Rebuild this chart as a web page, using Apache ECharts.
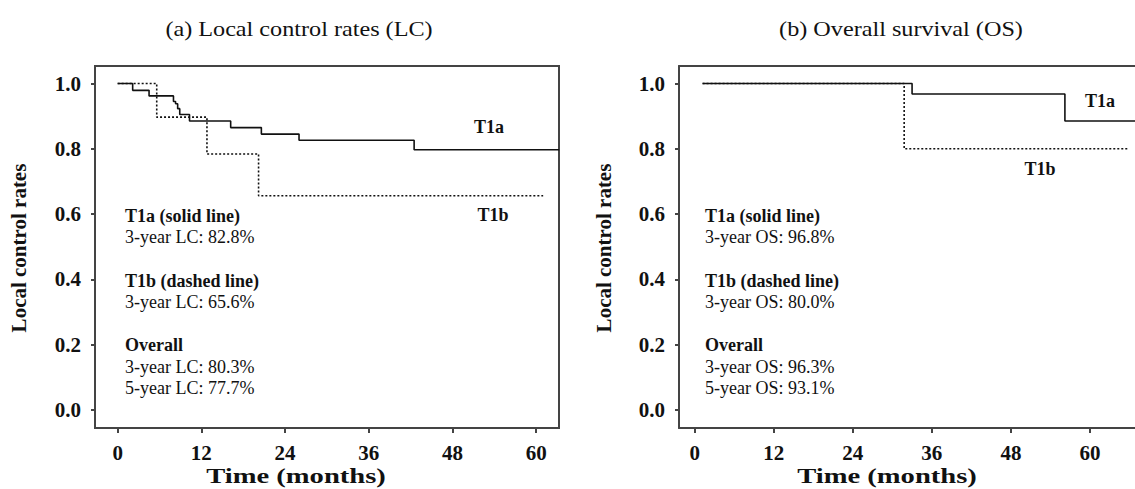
<!DOCTYPE html>
<html>
<head>
<meta charset="utf-8">
<script src="https://cdn.jsdelivr.net/npm/echarts@6/dist/echarts.min.js"></script>
<style>html,body{margin:0;padding:0;background:#fff}#c{width:1135px;height:489px}</style>
</head>
<body>
<div id="c"></div>
<script>
// ---- data ----
const xTicks = [0, 12, 24, 36, 48, 60];
const yTicks = [0, 0.2, 0.4, 0.6, 0.8, 1.0];

const lcMonthsT1a = [0, 2.15, 4.5, 8.0, 8.3, 8.6, 8.9, 10.3, 16.2, 20.6, 26.0, 42.5, 63.3];
const lcRateT1a   = [1.0, 0.979, 0.962, 0.945, 0.938, 0.923, 0.905, 0.885, 0.865, 0.845, 0.826, 0.797, 0.797];
const lcMonthsT1b = [0, 5.6, 12.8, 20.2, 61.0];
const lcRateT1b   = [1.0, 0.897, 0.784, 0.656, 0.656];

const osMonthsT1a = [1.2, 33.0, 56.2, 70.0];
const osRateT1a   = [1.0, 0.968, 0.885, 0.885];
const osMonthsT1b = [1.2, 31.8, 65.7];
const osRateT1b   = [1.0, 0.80, 0.80];

const panelTitles = ['(a) Local control rates (LC)', '(b) Overall survival (OS)'];
const yAxisTitle = 'Local control rates';
const xAxisTitle = 'Time (months)';
const lcNotes = [['T1a (solid line)', true], ['3-year LC: 82.8%', false], ['T1b (dashed line)', true], ['3-year LC: 65.6%', false], ['Overall', true], ['3-year LC: 80.3%', false], ['5-year LC: 77.7%', false]];
const osNotes = [['T1a (solid line)', true], ['3-year OS: 96.8%', false], ['T1b (dashed line)', true], ['3-year OS: 80.0%', false], ['Overall', true], ['3-year OS: 96.3%', false], ['5-year OS: 93.1%', false]];
const noteY = [216, 237, 281, 302, 345, 367, 388];

// ---- build ----
const pairs = (xs, ys) => xs.map((x, i) => [x, ys[i]]);
const FONT = '"Liberation Serif", "Times New Roman", serif';
const AX = '#444';

function xAxis(gi, min, max) {
  return {
    type: 'value', gridIndex: gi, min: min, max: max,
    axisLine: { show: true, onZero: false, lineStyle: { color: AX, width: 2 } },
    axisTick: { show: true, customValues: xTicks, length: 5, lineStyle: { color: AX, width: 2 } },
    axisLabel: { customValues: xTicks, margin: 14, fontFamily: FONT, fontWeight: 'bold', fontSize: 21, color: '#111' },
    splitLine: { show: false }
  };
}
function topLine(gi, min, max) {
  return {
    type: 'value', gridIndex: gi, min: min, max: max, position: 'top',
    axisLine: { show: true, onZero: false, lineStyle: { color: AX, width: 2 } },
    axisTick: { show: false }, axisLabel: { show: false }, splitLine: { show: false }
  };
}
function yAxis(gi) {
  return {
    type: 'value', gridIndex: gi, min: -0.0551, max: 1.0536,
    axisLine: { show: true, onZero: false, lineStyle: { color: AX, width: 2 } },
    axisTick: { show: true, customValues: yTicks, length: 4, lineStyle: { color: AX, width: 2 } },
    axisLabel: { customValues: yTicks, margin: 14, fontFamily: FONT, fontWeight: 'bold', fontSize: 21, color: '#111',
      formatter: v => v.toFixed(1) },
    splitLine: { show: false }
  };
}
function stepSeries(xi, yi, data, dotted) {
  return {
    type: 'line', xAxisIndex: xi, yAxisIndex: yi, step: 'end', symbol: 'none', clip: true,
    data: data, z: dotted ? 2 : 3,
    lineStyle: { color: '#111', width: 1.6, type: dotted ? [2, 2] : 'solid' }
  };
}
function txt(x, y, s, opt) {
  opt = opt || {};
  return {
    type: 'text', x: x, y: y, rotation: opt.rot || 0, scaleX: opt.sx || 1,
    silent: true,
    style: { text: s, x: 0, y: 0, fill: '#111', textAlign: opt.align || 'left', textVerticalAlign: 'middle',
      font: (opt.bold ? 'bold ' : '') + (opt.size || 18) + 'px ' + FONT }
  };
}

const graphics = [];
graphics.push(txt(299, 28, panelTitles[0], { align: 'center', size: 22, sx: 1.1 }));
graphics.push(txt(901, 28, panelTitles[1], { align: 'center', size: 22, sx: 1.1 }));
graphics.push(txt(19, 248, yAxisTitle, { align: 'center', size: 21, bold: true, rot: Math.PI / 2 }));
graphics.push(txt(604, 248, yAxisTitle, { align: 'center', size: 21, bold: true, rot: Math.PI / 2 }));
graphics.push(txt(296, 476, xAxisTitle, { align: 'center', size: 22, bold: true, sx: 1.3 }));
graphics.push(txt(887, 476, xAxisTitle, { align: 'center', size: 22, bold: true, sx: 1.3 }));
lcNotes.forEach((n, i) => graphics.push(txt(125, noteY[i], n[0], { bold: n[1], size: 18 })));
osNotes.forEach((n, i) => graphics.push(txt(705, noteY[i], n[0], { bold: n[1], size: 18 })));
graphics.push(txt(489, 127, 'T1a', { align: 'center', bold: true, size: 18 }));
graphics.push(txt(493, 215, 'T1b', { align: 'center', bold: true, size: 18 }));
graphics.push(txt(1100, 101, 'T1a', { align: 'center', bold: true, size: 18 }));
graphics.push(txt(1040, 169, 'T1b', { align: 'center', bold: true, size: 18 }));

const option = {
  animation: false,
  backgroundColor: '#fff',
  grid: [
    { left: 95, top: 66, width: 464, height: 362, show: true, borderColor: AX, borderWidth: 2, backgroundColor: 'transparent' },
    { left: 679, top: 66, right: 0, height: 362, show: false }
  ],
  xAxis: [xAxis(0, -3.25, 63.27), xAxis(1, -2.38, 66.84), topLine(1, -2.38, 66.84)],
  yAxis: [yAxis(0), yAxis(1)],
  series: [
    stepSeries(0, 0, pairs(lcMonthsT1b, lcRateT1b), true),
    stepSeries(0, 0, pairs(lcMonthsT1a, lcRateT1a), false),
    stepSeries(1, 1, pairs(osMonthsT1b, osRateT1b), true),
    stepSeries(1, 1, pairs(osMonthsT1a, osRateT1a), false)
  ],
  graphic: graphics
};
const chart = echarts.init(document.getElementById('c'), null, { renderer: 'svg' });
chart.setOption(option);
</script>
</body>
</html>
